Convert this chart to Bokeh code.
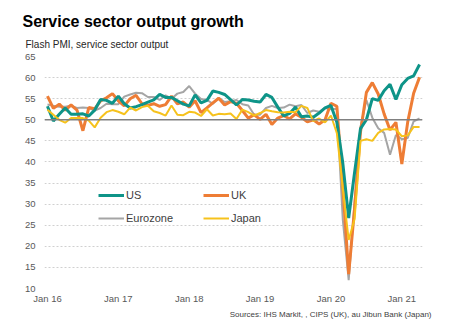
from bokeh.plotting import figure
from bokeh.models import Span, Legend, LegendItem, Title, FixedTicker, Range1d, ColumnDataSource
from bokeh.embed import file_html
from bokeh.resources import INLINE

# Months Jan 2016 .. Apr 2021
months = [f"{m} {y}" for y in range(16, 22) for m in
          ["Jan", "Feb", "Mar", "Apr", "May", "Jun", "Jul", "Aug", "Sep", "Oct", "Nov", "Dec"]][:64]

us = [53.2, 49.7, 51.3, 52.8, 51.3, 51.3, 51.4, 50.9, 52.3, 54.8, 54.6, 53.9,
      55.6, 53.8, 52.8, 53.1, 53.6, 54.2, 54.7, 56.0, 55.3, 55.3, 54.5, 53.7,
      53.3, 55.9, 54.0, 54.6, 56.8, 56.5, 56.0, 54.8, 53.5, 54.8, 54.7, 54.4,
      54.2, 56.0, 55.3, 53.0, 50.9, 51.5, 53.0, 50.7, 50.9, 50.6, 51.6, 52.8,
      53.4, 49.4, 39.8, 26.7, 37.5, 47.9, 50.0, 55.0, 54.6, 56.9, 58.4, 54.8,
      58.3, 59.8, 60.4, 63.1]
uk = [55.6, 52.7, 53.7, 52.3, 53.5, 52.3, 47.4, 52.9, 52.6, 54.5, 55.2, 56.2,
      54.5, 53.3, 55.0, 55.8, 53.8, 53.4, 53.8, 53.2, 53.6, 55.6, 53.8, 54.2,
      53.0, 54.5, 51.7, 52.8, 54.0, 55.1, 53.5, 54.3, 53.9, 52.2, 50.4, 51.2,
      50.1, 51.3, 48.9, 50.4, 51.0, 50.2, 51.4, 50.6, 49.5, 50.0, 49.0, 50.0,
      53.9, 53.2, 34.5, 13.4, 29.0, 47.1, 56.5, 58.8, 56.1, 51.4, 47.6, 49.4,
      39.5, 49.5, 56.3, 60.1]
eurozone = [53.6, 53.3, 53.1, 53.1, 53.3, 52.8, 52.9, 52.8, 52.2, 52.8, 53.8, 53.7,
            53.7, 55.5, 56.0, 56.4, 56.3, 55.4, 55.4, 54.7, 55.8, 55.0, 56.2, 56.6,
            58.0, 56.2, 54.9, 54.7, 53.8, 55.2, 54.2, 54.4, 54.7, 53.7, 53.4, 51.2,
            51.2, 52.8, 53.3, 52.8, 52.9, 53.6, 53.2, 53.5, 51.6, 52.2, 51.9, 52.8,
            52.5, 52.6, 26.4, 12.0, 30.5, 48.3, 54.7, 50.5, 48.0, 46.9, 41.7, 46.4,
            45.4, 45.7, 49.6, 50.3]
japan = [52.4, 51.2, 50.0, 49.3, 50.4, 50.4, 50.4, 49.8, 48.2, 50.5, 51.8, 52.3,
         51.9, 51.3, 52.9, 52.2, 53.0, 53.3, 52.0, 51.6, 51.0, 53.4, 51.2, 51.1,
         51.9, 51.7, 50.9, 52.5, 51.0, 51.4, 51.3, 51.5, 50.2, 52.4, 51.8, 51.0,
         51.6, 52.3, 52.0, 51.8, 51.7, 51.9, 51.8, 53.3, 52.8, 49.7, 50.3, 49.4,
         51.0, 46.8, 33.8, 21.5, 26.5, 45.0, 45.4, 45.0, 46.9, 47.7, 47.8, 47.7,
         46.1, 46.3, 48.3, 48.3]

tick_labels = ["Jan 16", "Jan 17", "Jan 18", "Jan 19", "Jan 20", "Jan 21"]
y_ticks = [10, 15, 20, 25, 30, 35, 40, 45, 50, 55, 60, 65]

x = list(range(len(months)))
src = ColumnDataSource(dict(x=x, us=us, uk=uk, ez=eurozone, jp=japan))

p = figure(width=454, height=334, output_backend="svg", toolbar_location=None,
           x_range=Range1d(-0.5, 63.5), y_range=Range1d(10, 65),
           min_border_left=44, min_border_right=32, min_border_top=56,
           min_border_bottom=46, background_fill_color="white",
           border_fill_color="white", outline_line_color=None)

p.add_layout(Title(text="Flash PMI, service sector output", text_font_size="10px",
                   text_font_style="normal", text_color="#262626", text_font="Liberation Sans",
                   align="left", offset=-19, standoff=13), "above")
p.add_layout(Title(text="Service sector output growth", text_font_size="16px",
                   text_font_style="bold", text_color="#000000", text_font="Liberation Sans",
                   align="left", offset=-22, standoff=1), "above")
p.add_layout(Title(text="Sources: IHS Markit, , CIPS (UK), au Jibun Bank (Japan)",
                   text_font_size="8px", text_font_style="normal", text_color="#404040",
                   text_font="Liberation Sans", align="right", offset=-9, standoff=2), "below")

# axes
p.xaxis.ticker = FixedTicker(ticks=[0, 12, 24, 36, 48, 60])
p.xaxis.major_label_overrides = {i * 12: t for i, t in enumerate(tick_labels)}
p.yaxis.ticker = FixedTicker(ticks=y_ticks)
for ax in (p.xaxis, p.yaxis):
    ax.axis_line_color = None
    ax.major_tick_line_color = None
    ax.minor_tick_line_color = None
    ax.major_tick_in = 0
    ax.major_tick_out = 0
    ax.minor_tick_in = 0
    ax.minor_tick_out = 0
    ax.major_label_text_color = "#595959"
    ax.major_label_text_font = "Liberation Sans"
    ax.major_label_text_font_size = "9.5px"
p.xaxis.major_label_standoff = 4
p.yaxis.major_label_standoff = 9

p.xgrid.grid_line_color = None
p.ygrid.grid_line_color = "#d0d0d0"
p.ygrid.grid_line_dash = "2 2"
p.ygrid.grid_line_width = 1

p.add_layout(Span(location=50, dimension="width", line_color="#808080", line_width=1.5))

r_ez = p.line("x", "ez", source=src, line_color="#A5A5A5", line_width=2)
r_uk = p.line("x", "uk", source=src, line_color="#EE7D35", line_width=3)
r_us = p.line("x", "us", source=src, line_color="#0E9488", line_width=3)
r_jp = p.line("x", "jp", source=src, line_color="#F6C21C", line_width=2)

def mk_legend(items, xloc):
    lg = Legend(items=items, location=(xloc, 60), orientation="vertical",
                background_fill_alpha=0, border_line_color=None, padding=0, margin=0,
                spacing=3, glyph_width=26, glyph_height=20, label_height=20,
                label_standoff=2, label_text_font="Liberation Sans",
                label_text_font_size="11px", label_text_color="#404040")
    p.add_layout(lg, "center")

mk_legend([LegendItem(label="US", renderers=[r_us]),
           LegendItem(label="Eurozone", renderers=[r_ez])], 54)
mk_legend([LegendItem(label="UK", renderers=[r_uk]),
           LegendItem(label="Japan", renderers=[r_jp])], 159)

open("out.html", "w").write(file_html(p, INLINE))
